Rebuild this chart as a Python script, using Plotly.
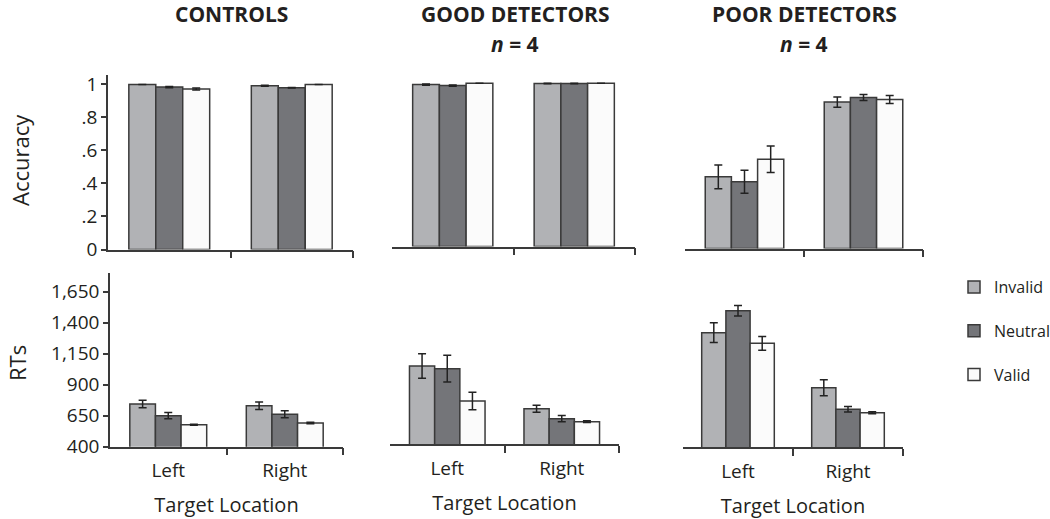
import plotly.graph_objects as go

# ---------------- data ----------------
categories = ["Left", "Right"]
conditions = ["Invalid", "Neutral", "Valid"]
groups = ["CONTROLS", "GOOD DETECTORS", "POOR DETECTORS"]
group_sub = ["", "<i>n</i> = 4", "<i>n</i> = 4"]

# Accuracy (proportion correct)
acc_ctrl_invalid = [1.000, 0.992]
acc_ctrl_neutral = [0.984, 0.980]
acc_ctrl_valid = [0.972, 1.000]
acc_ctrl_invalid_err = [0.000, 0.003]
acc_ctrl_neutral_err = [0.004, 0.002]
acc_ctrl_valid_err = [0.006, 0.000]

acc_good_invalid = [0.992, 0.999]
acc_good_neutral = [0.986, 0.999]
acc_good_valid = [1.000, 1.000]
acc_good_invalid_err = [0.004, 0.002]
acc_good_neutral_err = [0.004, 0.002]
acc_good_valid_err = [0.000, 0.000]

acc_poor_invalid = [0.434, 0.887]
acc_poor_neutral = [0.404, 0.915]
acc_poor_valid = [0.541, 0.903]
acc_poor_invalid_err = [0.072, 0.031]
acc_poor_neutral_err = [0.070, 0.018]
acc_poor_valid_err = [0.080, 0.024]

# Reaction times (ms)
rt_ctrl_invalid = [744, 731]
rt_ctrl_neutral = [650, 661]
rt_ctrl_valid = [577, 591]
rt_ctrl_invalid_err = [30, 30]
rt_ctrl_neutral_err = [25, 28]
rt_ctrl_valid_err = [5, 6]

rt_good_invalid = [1029, 685]
rt_good_neutral = [1007, 604]
rt_good_valid = [747, 580]
rt_good_invalid_err = [99, 28]
rt_good_neutral_err = [108, 25]
rt_good_valid_err = [70, 7]

rt_poor_invalid = [1322, 878]
rt_poor_neutral = [1499, 704]
rt_poor_valid = [1236, 677]
rt_poor_invalid_err = [80, 65]
rt_poor_neutral_err = [42, 22]
rt_poor_valid_err = [56, 8]

acc_ticks = [0, 0.2, 0.4, 0.6, 0.8, 1.0]
acc_ticktext = ["0", ".2", ".4", ".6", ".8", "1"]
rt_ticks = [400, 650, 900, 1150, 1400, 1650]
rt_ticktext = ["400", "650", "900", "1,150", "1,400", "1,650"]

# ---------------- styling ----------------
W, H = 1050, 519
FONT = "Open Sans"
TXT = "#231f20"
LINE = "#3a3a3a"
fills = {"Invalid": "#b1b2b5", "Neutral": "#747579", "Valid": "#fbfbfb"}

acc_data = [
    [(acc_ctrl_invalid, acc_ctrl_invalid_err), (acc_ctrl_neutral, acc_ctrl_neutral_err), (acc_ctrl_valid, acc_ctrl_valid_err)],
    [(acc_good_invalid, acc_good_invalid_err), (acc_good_neutral, acc_good_neutral_err), (acc_good_valid, acc_good_valid_err)],
    [(acc_poor_invalid, acc_poor_invalid_err), (acc_poor_neutral, acc_poor_neutral_err), (acc_poor_valid, acc_poor_valid_err)],
]
rt_data = [
    [(rt_ctrl_invalid, rt_ctrl_invalid_err), (rt_ctrl_neutral, rt_ctrl_neutral_err), (rt_ctrl_valid, rt_ctrl_valid_err)],
    [(rt_good_invalid, rt_good_invalid_err), (rt_good_neutral, rt_good_neutral_err), (rt_good_valid, rt_good_valid_err)],
    [(rt_poor_invalid, rt_poor_invalid_err), (rt_poor_neutral, rt_poor_neutral_err), (rt_poor_valid, rt_poor_valid_err)],
]

# panel boxes in pixels: (left, right, bottom, top)
top_boxes = [(108, 353, 249.5, 74.5), (392, 635, 246.5, 73.5), (685, 923, 248.5, 73.5)]
bot_boxes = [(110, 343, 446.7, 273.1), (390, 619, 444, 270.4), (683, 903, 447, 273.4)]

xpos = list(range(len(categories)))

fig = go.Figure()
layout = dict(
    width=W, height=H,
    margin=dict(l=0, r=0, t=0, b=0, autoexpand=False),
    paper_bgcolor="white", plot_bgcolor="white",
    barmode="group", bargap=0.34, bargroupgap=0,
    font=dict(family=FONT, color=TXT),
    showlegend=True,
    legend=dict(x=954 / W, y=1 - 270 / H, xanchor="left", yanchor="top",
                font=dict(size=16, family=FONT, color=TXT),
                tracegroupgap=20, bgcolor="rgba(0,0,0,0)"),
)


def px_dom_x(a, b):
    return [a / W, b / W]


def px_dom_y(bottom, top):
    return [1 - bottom / H, 1 - top / H]


annotations = []
idx = 0
for row, (boxes, data) in enumerate([(top_boxes, acc_data), (bot_boxes, rt_data)]):
    for col in range(3):
        idx += 1
        xa = "x" if idx == 1 else f"x{idx}"
        ya = "y" if idx == 1 else f"y{idx}"
        for ci, cond in enumerate(conditions):
            vals, errs = data[col][ci]
            fig.add_trace(go.Bar(
                x=xpos, y=vals, name=cond,
                xaxis=xa, yaxis=ya,
                offsetgroup=cond, legendgroup=cond,
                showlegend=(idx == 4),
                marker=dict(color=fills[cond], line=dict(color=LINE, width=1.5)),
                error_y=dict(type="data", array=errs, visible=True,
                             color="#222222", thickness=1.5, width=4),
            ))
        l, r, b, t = boxes[col]
        xkey = "xaxis" if idx == 1 else f"xaxis{idx}"
        ykey = "yaxis" if idx == 1 else f"yaxis{idx}"
        xaxis = dict(
            domain=px_dom_x(l, r), anchor=ya, automargin=False,
            range=[-0.5, len(categories) - 0.5],
            showgrid=False, zeroline=False,
            showline=True, linecolor=LINE, linewidth=1.5,
            tickmode="array", tickvals=xpos, ticktext=categories,
            ticks="", showticklabels=(row == 1),
            ticklabelstandoff=6,
            tickfont=dict(size=19, family=FONT, color=TXT),
            minor=dict(tickmode="array", tickvals=[i + 0.5 for i in xpos],
                       ticks="outside", ticklen=7, tickwidth=1.5, tickcolor=LINE,
                       showgrid=False),
            fixedrange=True,
        )
        if row == 1:
            xaxis["title"] = dict(text="Target Location",
                                  font=dict(size=20, family=FONT, color=TXT),
                                  standoff=16)
        layout[xkey] = xaxis
        first = col == 0
        if row == 0:
            yr = [0, 1.06]
            tv, tt = acc_ticks, acc_ticktext
        else:
            yr = [400, 1800]
            tv, tt = rt_ticks, rt_ticktext
        layout[ykey] = dict(
            domain=px_dom_y(b, t), anchor=xa, range=yr, automargin=False,
            showgrid=False, zeroline=False,
            showline=first, linecolor=LINE, linewidth=1.5,
            tickmode="array", tickvals=tv, ticktext=tt,
            ticks="outside" if first else "", ticklen=5, tickwidth=1.5, tickcolor=LINE,
            showticklabels=first,
            tickfont=dict(size=19, family=FONT, color=TXT),
            fixedrange=True,
        )

# column titles
title_cx = [231, 515, 804]
for gi, g in enumerate(groups):
    annotations.append(dict(
        x=title_cx[gi] / W, y=1 - 14 / H, xref="paper", yref="paper",
        text=f"<b>{g}</b>", showarrow=False, xanchor="center", yanchor="middle",
        font=dict(size=21, family=FONT, color=TXT)))
    if group_sub[gi]:
        annotations.append(dict(
            x=title_cx[gi] / W, y=1 - 44 / H, xref="paper", yref="paper",
            text=f"<b>{group_sub[gi]}</b>", showarrow=False, xanchor="center", yanchor="middle",
            font=dict(size=21, family=FONT, color=TXT)))

# row titles
annotations.append(dict(x=20 / W, y=1 - 160 / H, xref="paper", yref="paper",
                        text="Accuracy", textangle=-90, showarrow=False,
                        xanchor="center", yanchor="middle",
                        font=dict(size=22, family=FONT, color=TXT)))
annotations.append(dict(x=17 / W, y=1 - 363 / H, xref="paper", yref="paper",
                        text="RTs", textangle=-90, showarrow=False,
                        xanchor="center", yanchor="middle",
                        font=dict(size=22, family=FONT, color=TXT)))

layout["annotations"] = annotations
fig.update_layout(**layout)
fig.write_html("out.html",
               config={"displayModeBar": False},
               post_script="document.body.style.margin='0';document.body.style.overflow='hidden';")
